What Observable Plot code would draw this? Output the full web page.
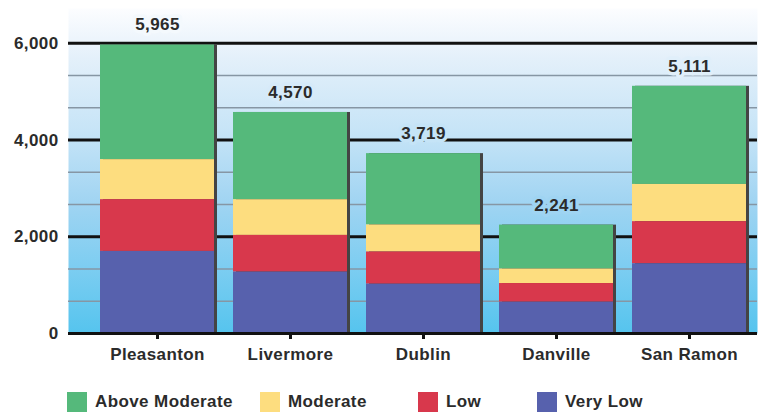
<!DOCTYPE html>
<html>
<head>
<meta charset="utf-8">
<script src="https://cdn.jsdelivr.net/npm/d3@7"></script>
<script src="https://cdn.jsdelivr.net/npm/@observablehq/plot@0.6"></script>
<style>
  html, body { margin: 0; padding: 0; background: #ffffff; }
  body { font-family: "Liberation Sans", Arial, Helvetica, sans-serif; }
  #chart svg text { letter-spacing: 0.4px; }
  #chart g[aria-label="x-axis tick"] path { stroke-width: 3px; stroke: #111; }
  #chart g[aria-label="x-axis"] .tick line { stroke-width: 3px; stroke: #111; }
  .legend { display: flex; align-items: center; margin-top: 12px; padding-left: 67px;
            font-size: 17px; font-weight: bold; color: #2b2b2b; letter-spacing: 0.4px; }
  .legend .item { display: flex; align-items: center; }
  .legend .sw { width: 20px; height: 20px; margin-right: 8px; flex: none; }
</style>
</head>
<body>
<div id="chart"></div>
<script>
const cities = ["Pleasanton", "Livermore", "Dublin", "Danville", "San Ramon"];
const categories = ["Above Moderate", "Moderate", "Low", "Very Low"];
const aboveModerate = [2370, 1804, 1474, 908, 2029];
const moderate = [828, 738, 560, 300, 770];
const low = [1070, 758, 665, 385, 870];
const veryLow = [1697, 1270, 1020, 648, 1442];
const totals = [5965, 4570, 3719, 2241, 5111];
const yTicks = [0, 2000, 4000, 6000];
const colors = ["#55b97b", "#fddd7f", "#d8384c", "#5761ad"];

const seriesByCategory = {
  "Above Moderate": aboveModerate,
  "Moderate": moderate,
  "Low": low,
  "Very Low": veryLow
};
const rows = [];
for (const cat of categories) {
  seriesByCategory[cat].forEach((v, i) => rows.push({city: cities[i], category: cat, value: v}));
}
const totalRows = cities.map((c, i) => ({city: c, total: totals[i]}));

// minor gridlines: thirds between the major ticks
const minorTicks = [];
for (let i = 0; i < yTicks.length - 1; i++) {
  const a = yTicks[i], b = yTicks[i + 1];
  minorTicks.push(a + (b - a) / 3, a + 2 * (b - a) / 3);
}

const yMax = 6720;
const gradStops = [
  [0, "#fcfdff"], [0.15, "#e4f0fa"], [0.38, "#c6e4f7"],
  [0.6, "#a0d4f2"], [0.8, "#7ccdf1"], [1, "#55c4ee"]
];
const bgColor = d3.scaleLinear().domain(gradStops.map(s => s[0])).range(gradStops.map(s => s[1]));
const fmt = d3.format(",");

const svg = Plot.plot({
  width: 763,
  height: 380,
  marginLeft: 68,
  marginRight: 6,
  marginTop: 8,
  marginBottom: 47,
  style: {
    fontSize: "17px",
    fontWeight: "bold",
    fontFamily: "'Liberation Sans', Arial, Helvetica, sans-serif",
    color: "#2b2b2b",
    background: "transparent",
    overflow: "visible"
  },
  x: {domain: cities, paddingInner: 0.14, paddingOuter: 0.16, align: 0.76,
      tickSize: 6, tickPadding: 8, label: null},
  y: {domain: [0, yMax], ticks: yTicks, tickFormat: fmt, tickSize: 0, tickPadding: 10, label: null},
  color: {domain: categories, range: colors},
  marks: [
    Plot.frame({fill: "url(#bgGrad)", stroke: "none"}),
    Plot.ruleY(minorTicks, {stroke: "#8696a4", strokeWidth: 1.6}),
    Plot.ruleY(yTicks.filter(d => d > 0), {stroke: "#111", strokeWidth: 3}),
    Plot.barY(totalRows, {x: "city", y: "total", fill: "#444", dx: 3}),
    Plot.barY(rows, Plot.stackY({
      x: "city", y: "value", fill: "category",
      order: ["Very Low", "Low", "Moderate", "Above Moderate"]
    })),
    Plot.ruleY([0], {stroke: "#111", strokeWidth: 3}),
    Plot.text(totalRows, {
      x: "city", y: "total", text: d => fmt(d.total), dy: -20,
      fill: "#2b2b2b", fontWeight: "bold", fontSize: 17,
      stroke: d => bgColor(1 - (d.total + 420) / yMax), strokeWidth: 7, paintOrder: "stroke"
    })
  ]
});

const defs = d3.select(svg).insert("defs", ":first-child");
const lg = defs.append("linearGradient").attr("id", "bgGrad")
  .attr("x1", 0).attr("y1", 0).attr("x2", 0).attr("y2", 1);
for (const [o, c] of gradStops) lg.append("stop").attr("offset", o).attr("stop-color", c);

document.getElementById("chart").appendChild(svg);

// legend
const legend = document.createElement("div");
legend.className = "legend";
const itemWidths = [193, 158, 119, null];
categories.forEach((cat, i) => {
  const item = document.createElement("div");
  item.className = "item";
  if (itemWidths[i]) item.style.width = itemWidths[i] + "px";
  const sw = document.createElement("span");
  sw.className = "sw";
  sw.style.background = colors[i];
  const lab = document.createElement("span");
  lab.textContent = cat;
  item.appendChild(sw);
  item.appendChild(lab);
  legend.appendChild(item);
});
document.getElementById("chart").appendChild(legend);
</script>
</body>
</html>
